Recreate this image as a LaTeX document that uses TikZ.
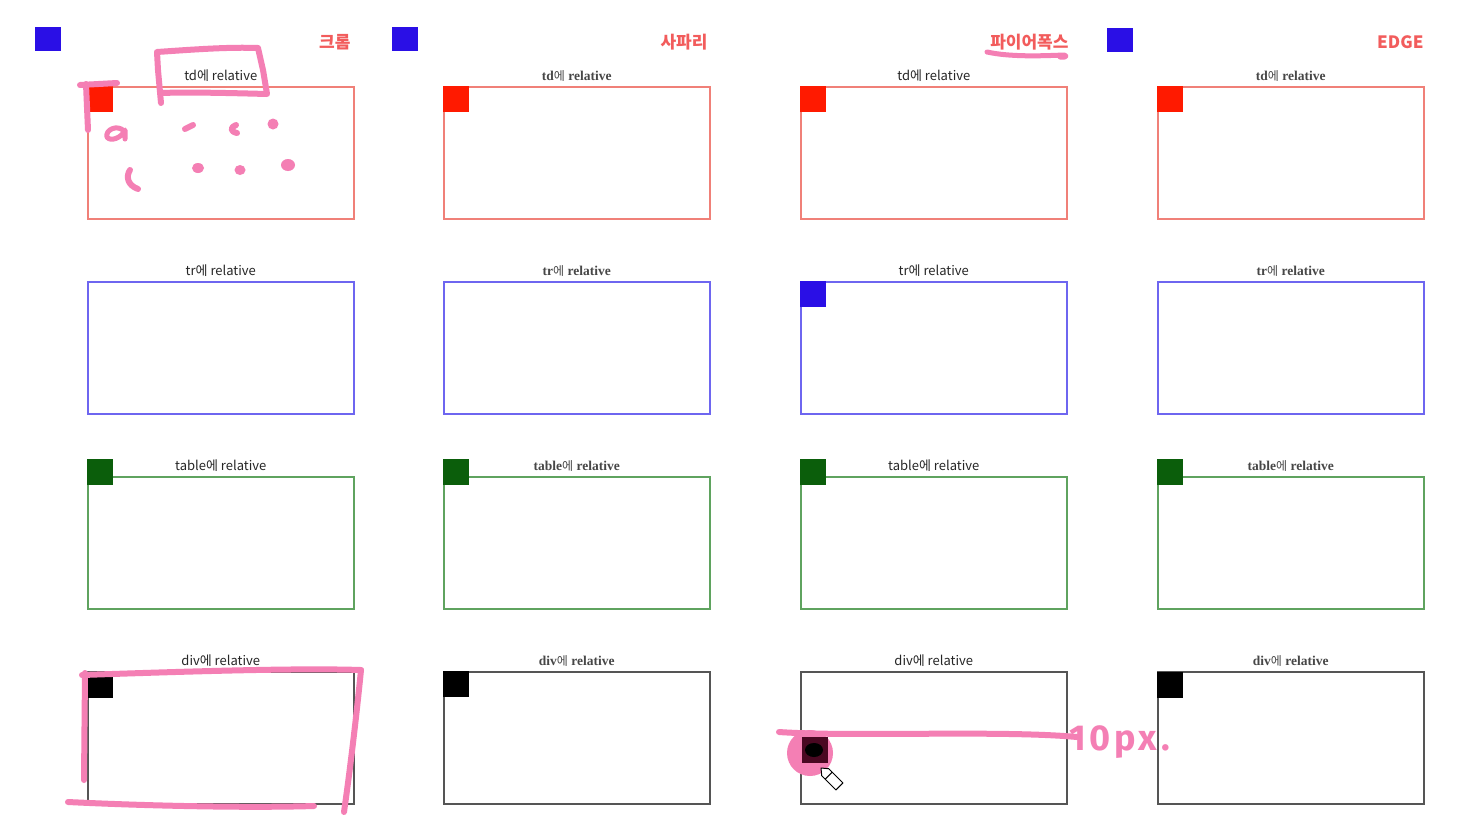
\documentclass[tikz,border=0pt]{standalone}
\usepackage{fontspec}
\setmainfont{Liberation Serif}
\newfontfamily\kr{Noto Sans CJK KR}
\newfontfamily\hand{Fira Sans}
\definecolor{pen}{HTML}{F47FB4}
\definecolor{hdr}{HTML}{F25C5C}
\definecolor{sqblue}{HTML}{2A0FE6}
\definecolor{sqred}{HTML}{FF1A00}
\definecolor{sqgreen}{HTML}{0B5E0B}
\definecolor{bred}{HTML}{F08078}
\definecolor{bblue}{HTML}{6E66F0}
\definecolor{bgreen}{HTML}{5FA35F}
\definecolor{bgray}{HTML}{555555}
\definecolor{maroon}{HTML}{4A0822}
\begin{document}
\begin{tikzpicture}[x=1pt,y=-1pt,
  frame/.style={draw, line width=1.5pt, minimum width=266pt, minimum height=132pt, anchor=north west, inner sep=0pt},
  sq/.style={minimum size=26pt, inner sep=0pt, anchor=north west},
  topsq/.style={fill=sqblue, minimum width=26pt, minimum height=24pt, inner sep=0pt, anchor=north west},
  hdrtxt/.style={text=hdr, font=\kr\bfseries\fontsize{17}{20}\selectfont, anchor=east},
  lblsans/.style={font=\kr\fontsize{13}{15}\selectfont, text=black!85, inner sep=0pt},
  lblserif/.style={font=\bfseries\fontsize{13.5}{15}\selectfont, text=black!72, inner sep=0pt},
  penline/.style={draw=pen, line width=6pt, line cap=round, line join=round},
  pendot/.style={fill=pen}]
\useasboundingbox (0,0) rectangle (1469,836);
\fill[white] (0,0) rectangle (1469,836);

% headers
\node[topsq] (h1) at (35,27) {};
\node[topsq] (h2) at (392,27) {};
\node[topsq] (h4) at (1107,28) {};
\node[hdrtxt] (t1) at (354,42) {크롬};
\node[hdrtxt] (t2) at (711,42) {사파리};
\node[hdrtxt] (t3) at (1072,42) {파이어폭스};
\node[hdrtxt] (t4) at (1427,42) {EDGE};

% boxes: columns 87,443,800,1157 ; rows 86,281,476,671
\foreach \c/\x in {1/87,2/443,3/800,4/1157}{
  \node[frame, draw=bred] (b1\c) at (\x,86) {};
  \node[frame, draw=bblue] (b2\c) at (\x,281) {};
  \node[frame, draw=bgreen] (b3\c) at (\x,476) {};
  \node[frame, draw=bgray] (b4\c) at (\x,671) {};
}

% labels
\foreach \c/\st in {1/lblsans,3/lblsans}{
  \node[\st, anchor=south] (l1\c) at ([yshift=4pt]b1\c.north) {td에 relative};
  \node[\st, anchor=south] (l2\c) at ([yshift=4pt]b2\c.north) {tr에 relative};
  \node[\st, anchor=south] (l3\c) at ([yshift=4pt]b3\c.north) {table에 relative};
  \node[\st, anchor=south] (l4\c) at ([yshift=4pt]b4\c.north) {div에 relative};
}
\foreach \c in {2,4}{
  \node[lblserif, anchor=south] (l1\c) at ([yshift=4pt]b1\c.north) {td{\kr\mdseries\fontsize{12}{14}\selectfont 에} relative};
  \node[lblserif, anchor=south] (l2\c) at ([yshift=4pt]b2\c.north) {tr{\kr\mdseries\fontsize{12}{14}\selectfont 에} relative};
  \node[lblserif, anchor=south] (l3\c) at ([yshift=4pt]b3\c.north) {table{\kr\mdseries\fontsize{12}{14}\selectfont 에} relative};
  \node[lblserif, anchor=south] (l4\c) at ([yshift=4pt]b4\c.north) {div{\kr\mdseries\fontsize{12}{14}\selectfont 에} relative};
}

% small squares
\foreach \c in {1,2,3,4}{
  \node[sq, fill=sqred] (r\c) at (b1\c.north west) {};
  \node[sq, fill=sqgreen] (g\c) at ([yshift=17pt]b3\c.north west) {};
}
\node[sq, fill=sqblue] (u3) at (b23.north west) {};
\node[sq, fill=black] (k1) at ([yshift=-1pt]b41.north west) {};
\node[sq, fill=black] (k2) at (b42.north west) {};
\node[sq, fill=black] (k4) at ([yshift=-1pt]b44.north west) {};

% ---- pen annotations ----
% chrome td label box
\draw[penline] (161,103) -- (158,70) -- (157,52) .. controls (200,49) and (230,47) .. (258,48) -- (263,70) -- (267,94) .. controls (230,93) and (190,92) .. (160,93);
% red square mark
\draw[penline] (80,85) -- (117,83);
\draw[penline] (86,84) -- (88,130);
% scribbles
\draw[penline, line width=5pt] (124,131) .. controls (117,124) and (105,130) .. (107,137) .. controls (110,142) and (122,138) .. (125,130) -- (125,139);
\draw[penline] (185,129) -- (193,125);
\draw[penline] (236,125) .. controls (231,127) and (229,131) .. (237,133);
\fill[pendot] (273,124) circle (5.5);
\draw[penline] (130,170) .. controls (126,176) and (127,185) .. (138,189);
\fill[pendot] (198,168) ellipse (6 and 5);
\fill[pendot] (240,170) ellipse (5.5 and 5);
\fill[pendot] (288,165) ellipse (7 and 6);
% firefox underline
\draw[penline, line width=5pt] (987,52) .. controls (1010,57) and (1040,56) .. (1064,55) .. controls (1068,56) and (1065,58) .. (1060,57);
% chrome div box
\draw[penline] (82,675) .. controls (200,671) and (300,668) .. (361,670);
\draw[penline] (361,670) .. controls (356,720) and (350,770) .. (344,812);
\draw[penline] (85,673) -- (84,780);
\draw[penline] (68,802) .. controls (150,806) and (250,808) .. (314,806);
% firefox div moved square
\draw[penline] (779,732) .. controls (850,737) and (1000,730) .. (1077,737);
\fill[pen] (810,753) circle (23);
\node[sq, fill=maroon] (k3) at (802,737) {};
\fill[black] (814,750) ellipse (9 and 7);
\node[anchor=west, text=pen, font=\hand\bfseries\fontsize{36}{40}\selectfont, inner sep=0pt] (px) at (1069,742) {\addfontfeature{LetterSpace=10}10px.};
% cursor
\draw[fill=white, line width=1pt, line join=round] (821,768) -- (828.7,768.7) -- (842.9,782.9) -- (835.9,789.9) -- (821.7,775.7) -- cycle;
\draw[line width=1pt] (832.2,772.2) -- (825.2,779.2);
\end{tikzpicture}
\end{document}
